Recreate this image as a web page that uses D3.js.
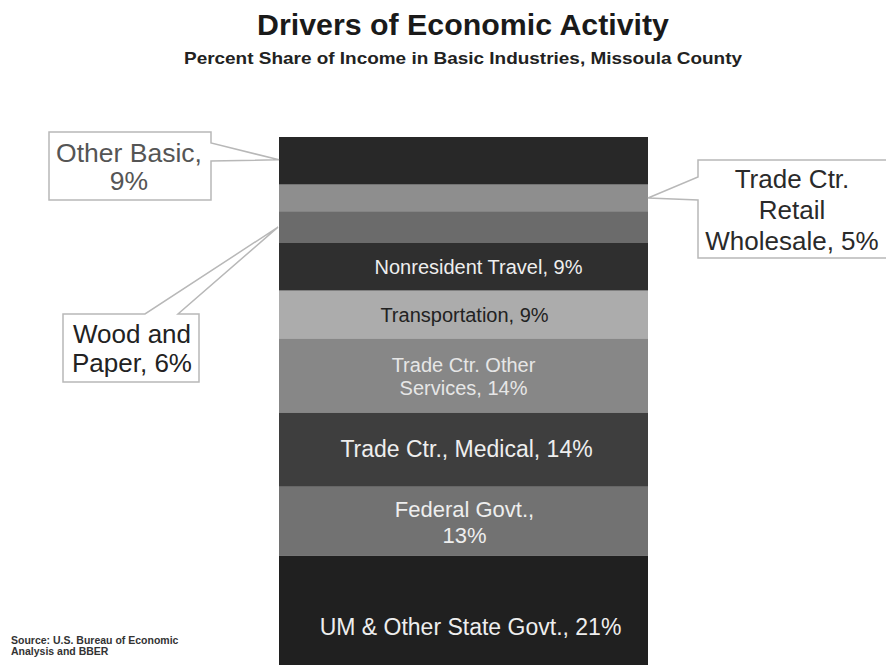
<!DOCTYPE html>
<html>
<head>
<meta charset="utf-8">
<script src="https://cdn.jsdelivr.net/npm/d3@7"></script>
<style>
  body { margin: 0; background: #fff; }
  svg, svg text { font-family: Arial, "Liberation Sans", Helvetica, sans-serif; }
  svg { display: block; }
</style>
</head>
<body>
<div id="chart-area"></div>
<script>
// segments, top of the column first
const categories = ['Other Basic', 'Trade Ctr. Retail Wholesale', 'Wood and Paper', 'Nonresident Travel',
  'Transportation', 'Trade Ctr. Other Services', 'Trade Ctr., Medical', 'Federal Govt.', 'UM & Other State Govt.'];
const shares = [9, 5, 6, 9, 9, 14, 14, 13, 21];
const labels = [
  ['Other Basic,', '9%'],
  ['Trade Ctr.', 'Retail', 'Wholesale, 5%'],
  ['Wood and', 'Paper, 6%'],
  ['Nonresident Travel, 9%'],
  ['Transportation, 9%'],
  ['Trade Ctr. Other', 'Services, 14%'],
  ['Trade Ctr., Medical, 14%'],
  ['Federal Govt.,', '13%'],
  ['UM & Other State Govt., 21%']
];
const fills = ['#282828', '#8e8e8e', '#6b6b6b', '#2f2f2f', '#acacac', '#878787', '#3e3e3e', '#727272', '#202020'];

const W = 886, H = 665;

const svg = d3.select('#chart-area').append('svg')
  .attr('width', W)
  .attr('height', H);

// titles (the original lettering is a bit wider than Arial)
svg.append('text')
  .attr('x', 463).attr('y', 35)
  .attr('text-anchor', 'middle')
  .attr('font-size', 29).attr('font-weight', 'bold').attr('fill', '#1a1a1a')
  .attr('textLength', 412).attr('lengthAdjust', 'spacingAndGlyphs')
  .text('Drivers of Economic Activity');
svg.append('text')
  .attr('x', 463).attr('y', 64)
  .attr('text-anchor', 'middle')
  .attr('font-size', 17).attr('font-weight', 'bold').attr('fill', '#222')
  .attr('textLength', 558).attr('lengthAdjust', 'spacingAndGlyphs')
  .text('Percent Share of Income in Basic Industries, Missoula County');

// scales
const x = d3.scaleBand().domain(['Missoula County']).range([279, 648]).padding(0);
const y = d3.scaleLinear().domain([0, 100]).range([137, 667]);

const cum = d3.cumsum(shares);
const segs = categories.map((c, i) => ({
  name: c, value: shares[i], lines: labels[i], fill: fills[i],
  y0: cum[i] - shares[i], y1: cum[i]
}));

svg.append('g').selectAll('rect')
  .data(segs)
  .join('rect')
  .attr('x', x('Missoula County'))
  .attr('width', x.bandwidth())
  .attr('y', d => y(d.y0))
  .attr('height', d => y(d.y1) - y(d.y0))
  .attr('fill', d => d.fill);

// labels drawn inside the column
const inside = {
  'Nonresident Travel': { size: 20, color: '#eee', dx: 15, dy: 7 },
  'Transportation': { size: 20, color: '#222', dx: 1, dy: 7 },
  'Trade Ctr. Other Services': { size: 20, color: '#e6e6e6', dx: 0, dy: -3.5, lh: 23 },
  'Trade Ctr., Medical': { size: 23, color: '#eee', dx: 3, dy: 7.5 },
  'Federal Govt.': { size: 22, color: '#eee', dx: 1, dy: -4.5, lh: 26 },
  'UM & Other State Govt.': { size: 23, color: '#eee', dx: 7, dy: 23.5 }
};
const cx = x('Missoula County') + x.bandwidth() / 2;

segs.filter(d => inside[d.name]).forEach(d => {
  const s = inside[d.name];
  const mid = y((d.y0 + d.y1) / 2);
  const t = svg.append('text')
    .attr('text-anchor', 'middle')
    .attr('font-size', s.size)
    .attr('fill', s.color);
  d.lines.forEach((line, i) => {
    t.append('tspan')
      .attr('x', cx + s.dx)
      .attr('y', mid + s.dy + i * (s.lh || 0))
      .text(line);
  });
});

// callout boxes
function callout(d, box, notch, tip, opts) {
  const [bx0, by0, bx1, by1] = box;
  let pts;
  if (opts.side === 'right') {
    // notch on the right edge
    pts = [[bx0, by0], [bx1, by0], [bx1, notch[0]], tip, [bx1, notch[1]], [bx1, by1], [bx0, by1]];
  } else if (opts.side === 'left') {
    pts = [[bx0, by0], [bx1, by0], [bx1, by1], [bx0, by1], [bx0, notch[1]], tip, [bx0, notch[0]]];
  } else {
    // notch on the top edge
    pts = [[bx0, by0], [notch[0], by0], tip, [notch[1], by0], [bx1, by0], [bx1, by1], [bx0, by1]];
  }
  svg.append('path')
    .attr('d', d3.line()(pts) + 'Z')
    .attr('fill', '#fff')
    .attr('stroke', '#b8b8b8')
    .attr('stroke-width', 1.5);
  const t = svg.append('text')
    .attr('text-anchor', 'middle')
    .attr('font-size', opts.size)
    .attr('fill', opts.color);
  d.lines.forEach((line, i) => {
    t.append('tspan')
      .attr('x', opts.tx)
      .attr('y', opts.ty + i * opts.lh)
      .text(line);
  });
}

const byName = n => segs.find(s => s.name === n);
const left = x('Missoula County'), right = left + x.bandwidth();

callout(byName('Other Basic'), [49, 132, 211, 200], [143, 161], [left, y(4.3)],
  { side: 'right', size: 26.5, color: '#555', tx: 129, ty: 162, lh: 28 });
callout(byName('Wood and Paper'), [63, 314, 199, 382], [145, 178], [left - 1, y(17)],
  { side: 'top', size: 26, color: '#222', tx: 132, ty: 343, lh: 29 });
callout(byName('Trade Ctr. Retail Wholesale'), [698, 160, 892, 258], [177, 200], [right, y(11.5)],
  { side: 'left', size: 26, color: '#2a2a2a', tx: 792, ty: 188, lh: 31 });

// source note
svg.append('text')
  .attr('font-size', 10.5).attr('font-weight', 'bold').attr('fill', '#333')
  .selectAll('tspan')
  .data(['Source:  U.S. Bureau of Economic', 'Analysis and BBER'])
  .join('tspan')
  .attr('x', 11)
  .attr('y', (d, i) => 644 + i * 10.5)
  .text(d => d);
</script>
</body>
</html>
